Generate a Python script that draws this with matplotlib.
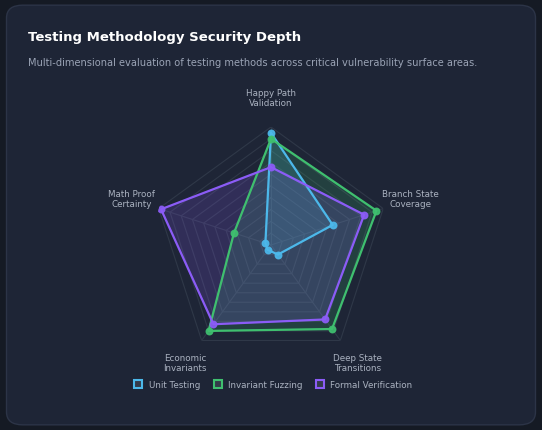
import numpy as np
import matplotlib.pyplot as plt
from matplotlib.patches import FancyBboxPatch
from matplotlib.lines import Line2D

# Data
axes_labels = ['Happy Path\nValidation', 'Branch State\nCoverage', 'Deep State\nTransitions',
               'Economic\nInvariants', 'Math Proof\nCertainty']
series_names = ['Unit Testing', 'Invariant Fuzzing', 'Formal Verification']
unit_testing = [95, 55, 10, 5, 5]
invariant_fuzzing = [90, 94, 88, 90, 33]
formal_verification = [66, 83, 78, 83, 98]
colors = ['#4cb8ea', '#3fbf6f', '#8b5cf6']

fig = plt.figure(figsize=(5.42, 4.3), dpi=100)
fig.patch.set_facecolor('#151a24')
card = FancyBboxPatch((0.012, 0.012), 0.976, 0.976, boxstyle='round,pad=0,rounding_size=0.03',
                      transform=fig.transFigure, facecolor='#1e2536', edgecolor='#2c3447', lw=1,
                      zorder=-10)
fig.patches.append(card)

fig.text(28 / 542, 1 - 38 / 430, 'Testing Methodology Security Depth', color='white',
         fontsize=9.5, fontweight='bold', va='center')
fig.text(28 / 542, 1 - 63 / 430,
         'Multi-dimensional evaluation of testing methods across critical vulnerability surface areas.',
         color='#9aa3b5', fontsize=7.1, va='center')

r_px = 118
ax = fig.add_axes([(271 - r_px) / 542, (430 - 245 - r_px) / 430, 2 * r_px / 542, 2 * r_px / 430],
                  projection='polar')
ax.set_facecolor('none')
ax.set_theta_offset(np.pi / 2)
ax.set_theta_direction(-1)
ax.set_ylim(0, 100)
ax.grid(False)
ax.spines['polar'].set_visible(False)
ax.set_yticks([])

n = len(axes_labels)
theta = np.linspace(0, 2 * np.pi, n, endpoint=False)
theta_c = np.append(theta, theta[0])

# polygon grid
for lvl in range(10, 101, 10):
    ax.plot(theta_c, [lvl] * (n + 1), color='#2f3848', lw=0.8, zorder=1)
for t in theta:
    ax.plot([t, t], [0, 100], color='#2f3848', lw=0.8, zorder=1)

ax.set_xticks(theta)
ax.set_xticklabels(axes_labels, color='#aab2c0', fontsize=6.3)
ax.tick_params(axis='x', pad=10)

for name, vals, c in zip(series_names, [unit_testing, invariant_fuzzing, formal_verification], colors):
    v = np.append(vals, vals[0])
    ax.fill(theta_c, v, color=c, alpha=0.18, zorder=2)
    ax.plot(theta_c, v, color=c, lw=1.6, zorder=3)
    ax.plot(theta, vals, 'o', ms=4.5, mfc=c, mec=c, mew=1.2, alpha=0.9, zorder=4)

handles = [Line2D([], [], marker='s', ls='none', ms=6, mfc=(1, 1, 1, 0.1), mec=c, mew=1.5)
           for c in colors]
leg = fig.legend(handles, series_names, loc='center', bbox_to_anchor=(271 / 542, 1 - 385 / 430),
                 ncol=3, frameon=False, fontsize=6.3, handletextpad=0.2, columnspacing=1.0)
for t in leg.get_texts():
    t.set_color('#aab2c0')

fig.savefig('out.png', dpi=100, facecolor=fig.get_facecolor())
